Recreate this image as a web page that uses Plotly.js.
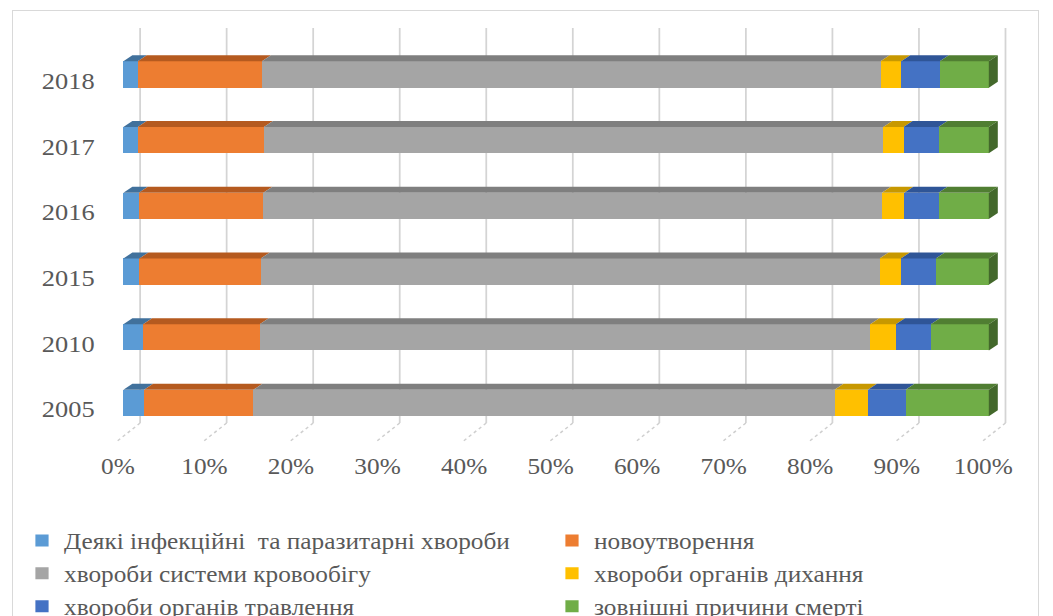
<!DOCTYPE html>
<html>
<head>
<meta charset="utf-8">
<script src="https://cdn.plot.ly/plotly-3.0.1.min.js"></script>
<style>
  html, body { margin: 0; padding: 0; background: #ffffff; }
  #wrap { position: relative; width: 1053px; height: 616px; overflow: hidden; background: #ffffff; }
  #frame { position: absolute; left: 12px; top: 10px; width: 1027px; height: 640px; border: 1px solid #d9d9d9; box-sizing: border-box; pointer-events: none; }
  #chart { position: absolute; left: 0; top: 0; transform-origin: 0 0; }
</style>
</head>
<body>
<div id="wrap">
  <div id="chart"></div>
  <div id="frame"></div>
</div>
<script>
// ---- data (percent shares) ----
const years = ["2005", "2010", "2015", "2016", "2017", "2018"];
const seriesNames = [
  "Деякі інфекційні  та паразитарні хвороби",
  "новоутворення",
  "хвороби системи кровообігу",
  "хвороби органів дихання",
  "хвороби органів травлення",
  "зовнішні причини смерті"
];
const infectious  = [2.39, 2.27, 1.85, 1.78, 1.66, 1.66];
const neoplasms   = [12.62, 13.48, 14.02, 14.39, 14.58, 14.35];
const circulatory = [67.17, 70.55, 71.51, 71.48, 71.56, 71.50];
const respiratory = [3.85, 2.96, 2.46, 2.59, 2.34, 2.39];
const digestive   = [4.35, 4.04, 4.04, 3.96, 4.04, 4.46];
const external    = [9.62, 6.70, 6.12, 5.81, 5.81, 5.66];
const tickVals = [0, 10, 20, 30, 40, 50, 60, 70, 80, 90, 100];
const tickText = ["0%", "10%", "20%", "30%", "40%", "50%", "60%", "70%", "80%", "90%", "100%"];

// ---- styling ----
const frontColors = ["#5B9BD5", "#ED7D31", "#A5A5A5", "#FFC000", "#4472C4", "#70AD47"];
const topColors   = ["#41719C", "#B55A1F", "#7F7F7F", "#C79800", "#2F5597", "#507E32"];
const sideColor   = "#43682B";
const textColor = "#595959";
const fontFam = "Liberation Serif, Times New Roman, serif";
const legendOf = ["legend", "legend2", "legend", "legend2", "legend", "legend2"];

const series = [infectious, neoplasms, circulatory, respiratory, digestive, external];
const yIdx = years.map((_, i) => i);

// geometry (screen pixels); the chart is drawn slightly narrower and stretched
// horizontally, as the reference image is
const SCREEN_W = 1053, SCREEN_H = 616;
const LOCAL_W = 957;
const S = SCREEN_W / LOCAL_W;
const scr = {l: 100, r: 38, t: 25, b: 166};
const M = {l: scr.l / S, r: scr.r / S, t: scr.t, b: scr.b, autoexpand: false};
const plotWs = SCREEN_W - scr.l - scr.r;
const pxPerX = 8.66, pxPerY = 65.7;          // screen px per data unit
const xRange = [-23.3 / pxPerX, (plotWs - 23.3) / pxPerX];
const yRange = [-(450 - 403) / pxPerY, 5 + (74.5 - scr.t) / pxPerY];
const ux = p => p / pxPerX;   // screen pixels -> x units
const uy = p => p / pxPerY;   // pixels -> y units
const barW = 0.4;

// normalise to 100 %
const totals = yIdx.map(i => series.reduce((s, a) => s + a[i], 0));
const norm = series.map(a => a.map((v, i) => v / totals[i] * 100));

const traces = norm.map((vals, j) => ({
  type: "bar",
  orientation: "h",
  name: seriesNames[j],
  legend: legendOf[j],
  x: vals,
  y: yIdx,
  width: barW,
  marker: {color: frontColors[j], line: {width: 0}},
  hoverinfo: "skip"
}));

const shapes = [];
// back-wall grid lines and floor lines
const gTop = 5 + uy(74.5 - 28), gBot = -uy(423 - 403);
tickVals.forEach(t => {
  const gx = t + ux(16.7);
  shapes.push({type: "line", layer: "below", x0: gx, x1: gx, y0: gTop, y1: gBot,
    line: {color: "#d4d4d4", width: 1.6}});
  shapes.push({type: "line", layer: "below", x0: gx, y0: gBot, x1: t - ux(7.3), y1: -uy(442 - 403),
    line: {color: "#cfcfcf", width: 1.4, dash: "dot"}});
});
// 3D top faces and side face
const dx = ux(9), dy = uy(6);
yIdx.forEach(i => {
  let cum = 0;
  norm.forEach((vals, j) => {
    const x0 = cum, x1 = cum + vals[i];
    const yt = i + barW / 2;
    shapes.push({type: "path", layer: "above", line: {width: 0}, fillcolor: topColors[j],
      path: `M ${x0},${yt} L ${x1},${yt} L ${x1 + dx},${yt + dy} L ${x0 + dx},${yt + dy} Z`});
    cum = x1;
  });
  const yt = i + barW / 2, yb = i - barW / 2;
  shapes.push({type: "path", layer: "above", line: {width: 0}, fillcolor: sideColor,
    path: `M ${cum},${yt} L ${cum + dx},${yt + dy} L ${cum + dx},${yb + dy} L ${cum},${yb} Z`});
});

const legendCommon = {
  orientation: "v", xref: "container", yref: "container",
  yanchor: "top", xanchor: "left", y: 1 - 519 / SCREEN_H,
  traceorder: "normal",
  font: {family: fontFam, size: 23, color: textColor},
  bgcolor: "rgba(0,0,0,0)"
};
// legend text should start at screen x 65 and 595; text sits 40 local px after legend x
const legX = sx => (sx / S - 40) / LOCAL_W;

const layout = {
  width: LOCAL_W, height: SCREEN_H,
  margin: M,
  paper_bgcolor: "rgba(0,0,0,0)", plot_bgcolor: "rgba(0,0,0,0)",
  barmode: "stack",
  showlegend: true,
  font: {family: fontFam, color: textColor, size: 23},
  xaxis: {
    range: xRange, showgrid: false, zeroline: false, showline: false,
    tickmode: "array", tickvals: tickVals, ticktext: tickText,
    ticks: "", ticklabelshift: -5, ticklabelstandoff: 0, automargin: false,
    tickfont: {family: fontFam, size: 23, color: textColor}, fixedrange: true
  },
  yaxis: {
    range: yRange, showgrid: false, zeroline: false, showline: false,
    tickmode: "array", tickvals: yIdx, ticktext: years,
    ticks: "", ticklabelshift: 6, ticklabelstandoff: 4, automargin: false,
    tickfont: {family: fontFam, size: 24, color: textColor}, fixedrange: true
  },
  legend: Object.assign({}, legendCommon, {x: legX(64)}),
  legend2: Object.assign({}, legendCommon, {x: legX(594)}),
  shapes: shapes
};

const chartDiv = document.getElementById("chart");
chartDiv.style.width = LOCAL_W + "px";
chartDiv.style.height = SCREEN_H + "px";
chartDiv.style.transform = "scaleX(" + S + ")";
Plotly.newPlot(chartDiv, traces, layout, {displayModeBar: false, staticPlot: true});
</script>
</body>
</html>
